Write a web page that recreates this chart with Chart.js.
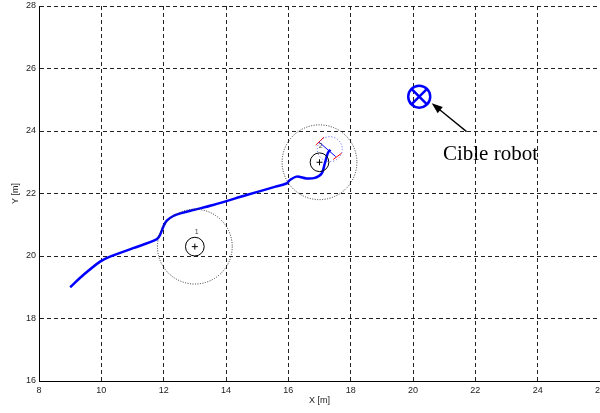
<!DOCTYPE html>
<html>
<head>
<meta charset="utf-8">
<script src="https://cdn.jsdelivr.net/npm/chart.js@4/dist/chart.umd.min.js"></script>
<style>
  html, body { margin: 0; padding: 0; background: #fff; }
  canvas { display: block; }
</style>
</head>
<body>
<canvas id="plot" width="600" height="413"></canvas>
<script>
// trajectoire du robot
var trajX = [9.0, 9.42, 9.96, 10.28, 11.02, 11.77, 11.88, 11.99, 12.1, 12.31, 12.6, 12.95, 13.59, 14.66, 15.59, 15.94, 16.05, 16.27, 16.58, 16.85, 17.07, 17.17, 17.27, 17.35];
var trajY = [19.0, 19.39, 19.82, 19.98, 20.25, 20.53, 20.67, 20.94, 21.13, 21.28, 21.38, 21.47, 21.63, 21.95, 22.22, 22.32, 22.43, 22.54, 22.48, 22.5, 22.64, 22.96, 23.3, 23.4];

// obstacles
var obsX = [13.0, 17.0];
var obsY = [20.3, 23.0];
var obsLabel = ['1', '2'];
var obsCore = [0.3, 0.3];
var obsZone = [1.2, 1.2];

// cible
var targetX = [20.2];
var targetY = [25.1];
var arrowX = [21.72, 20.6];
var arrowY = [23.98, 24.89];
var targetText = 'Cible robot';
var targetTextX = 20.96;
var targetTextY = 23.07;

// capteur au point final
var sensorX = 17.33, sensorY = 23.42, sensorR = 0.4;
var beamX = [16.99, 17.52], beamY = [23.64, 23.18];
var redAX = [16.88, 17.14], redAY = [23.55, 23.8];
var redBX = [17.44, 17.71], redBY = [23.09, 23.29];

// axes
var xTicks = [8, 10, 12, 14, 16, 18, 20, 22, 24, 26];
var yTicks = [16, 18, 20, 22, 24, 26, 28];

function pts(xs, ys) {
  return xs.map(function(x, i) { return { x: x, y: ys[i] }; });
}

function seg(xs, ys, color, width) {
  return {
    data: pts(xs, ys),
    showLine: true,
    borderColor: color,
    borderWidth: width,
    pointRadius: 0,
  };
}

var overlay = {
  id: 'overlay',
  afterDatasetsDraw: function(chart) {
    var ctx = chart.ctx;
    var sx = chart.scales.x, sy = chart.scales.y;
    function rpx(cx, r) { return sx.getPixelForValue(cx + r) - sx.getPixelForValue(cx); }

    ctx.save();
    obsX.forEach(function(cx, i) {
      var px = sx.getPixelForValue(cx), py = sy.getPixelForValue(obsY[i]);
      // zone d'influence
      ctx.beginPath();
      ctx.setLineDash([1, 1.5]);
      ctx.strokeStyle = '#333';
      ctx.lineWidth = 1;
      ctx.arc(px, py, rpx(cx, obsZone[i]), 0, Math.PI * 2);
      ctx.stroke();
      // obstacle
      ctx.setLineDash([]);
      ctx.strokeStyle = '#000';
      ctx.beginPath();
      ctx.arc(px, py, rpx(cx, obsCore[i]), 0, Math.PI * 2);
      ctx.stroke();
      ctx.beginPath();
      ctx.moveTo(px - 3, py); ctx.lineTo(px + 3, py);
      ctx.moveTo(px, py - 3); ctx.lineTo(px, py + 3);
      ctx.stroke();
    });

    ctx.fillStyle = '#444';
    ctx.font = '7px "Liberation Sans", Arial, sans-serif';
    ctx.textAlign = 'center';
    ctx.textBaseline = 'middle';
    ctx.fillText(obsLabel[0], sx.getPixelForValue(obsX[0] + 0.06), sy.getPixelForValue(obsY[0] + 0.48));
    ctx.fillText(obsLabel[1], sx.getPixelForValue(17.04), sy.getPixelForValue(23.52));

    // cercle capteur
    ctx.beginPath();
    ctx.setLineDash([1, 2]);
    ctx.strokeStyle = '#5a5aff';
    ctx.arc(sx.getPixelForValue(sensorX), sy.getPixelForValue(sensorY), rpx(sensorX, sensorR), 0, Math.PI * 2);
    ctx.stroke();
    ctx.setLineDash([]);

    // fleche
    var x1 = sx.getPixelForValue(arrowX[0]), y1 = sy.getPixelForValue(arrowY[0]);
    var x2 = sx.getPixelForValue(arrowX[1]), y2 = sy.getPixelForValue(arrowY[1]);
    var a = Math.atan2(y2 - y1, x2 - x1);
    ctx.strokeStyle = '#000';
    ctx.fillStyle = '#000';
    ctx.lineWidth = 1.3;
    ctx.beginPath();
    ctx.moveTo(x1, y1);
    ctx.lineTo(x2 - 6 * Math.cos(a), y2 - 6 * Math.sin(a));
    ctx.stroke();
    ctx.beginPath();
    ctx.moveTo(x2, y2);
    ctx.lineTo(x2 - 11 * Math.cos(a) + 4 * Math.sin(a), y2 - 11 * Math.sin(a) - 4 * Math.cos(a));
    ctx.lineTo(x2 - 11 * Math.cos(a) - 4 * Math.sin(a), y2 - 11 * Math.sin(a) + 4 * Math.cos(a));
    ctx.closePath();
    ctx.fill();

    ctx.font = '21px "Liberation Serif", "Times New Roman", serif';
    ctx.textAlign = 'left';
    ctx.textBaseline = 'alphabetic';
    ctx.fillText(targetText, sx.getPixelForValue(targetTextX), sy.getPixelForValue(targetTextY));
    ctx.restore();
  },
};

var whiteBg = {
  id: 'whiteBg',
  beforeDraw: function(chart) {
    var ctx = chart.ctx;
    ctx.save();
    ctx.fillStyle = '#fff';
    ctx.fillRect(0, 0, chart.width, chart.height);
    ctx.restore();
  },
};

var tickFont = { family: '"Liberation Sans", Arial, sans-serif', size: 9 };

new Chart(document.getElementById('plot'), {
  type: 'scatter',
  data: {
    datasets: [
      {
        data: pts(trajX, trajY),
        showLine: true,
        borderColor: '#0000ff',
        borderWidth: 2.5,
        pointRadius: 0,
        tension: 0.3,
      },
      seg(beamX, beamY, '#0000ff', 1),
      seg(redAX, redAY, '#ff0000', 1),
      seg(redBX, redBY, '#ff0000', 1),
      {
        data: pts(targetX, targetY),
        pointStyle: 'circle',
        pointRadius: 11,
        borderColor: '#0000ff',
        backgroundColor: 'rgba(0,0,0,0)',
        borderWidth: 2.5,
      },
      {
        data: pts(targetX, targetY),
        pointStyle: 'crossRot',
        pointRadius: 11,
        borderColor: '#0000ff',
        borderWidth: 2.5,
      },
    ],
  },
  options: {
    responsive: false,
    devicePixelRatio: 1,
    animation: false,
    layout: { autoPadding: false, padding: { top: 6, right: 0, left: 0, bottom: 0 } },
    plugins: { legend: { display: false }, tooltip: { enabled: false } },
    scales: {
      x: {
        type: 'linear',
        min: 8,
        max: 26,
        afterBuildTicks: function(s) { s.ticks = xTicks.map(function(v) { return { value: v }; }); },
        afterFit: function(s) { s.height = 32; s.paddingLeft = 0; s.paddingRight = 0; },
        grid: { color: '#222', lineWidth: 1, drawTicks: false },
        border: { display: true, color: '#000', width: 1, dash: [4, 3] },
        ticks: { font: tickFont, color: '#222', padding: 4, maxRotation: 0, autoSkip: false },
        title: { display: true, text: 'X [m]', font: tickFont, color: '#222', padding: { top: 0, bottom: 7 } },
      },
      y: {
        type: 'linear',
        min: 16,
        max: 28,
        afterBuildTicks: function(s) { s.ticks = yTicks.map(function(v) { return { value: v }; }); },
        afterFit: function(s) { s.width = 39; s.paddingTop = 0; s.paddingBottom = 0; },
        grid: { color: '#222', lineWidth: 1, drawTicks: false },
        border: { display: true, color: '#000', width: 1, dash: [4, 3] },
        ticks: { font: tickFont, color: '#222', padding: 3, autoSkip: false },
        title: { display: true, text: 'Y [m]', font: tickFont, color: '#222', padding: { top: 10, bottom: 0 } },
      },
    },
  },
  plugins: [whiteBg, overlay],
});
</script>
</body>
</html>
